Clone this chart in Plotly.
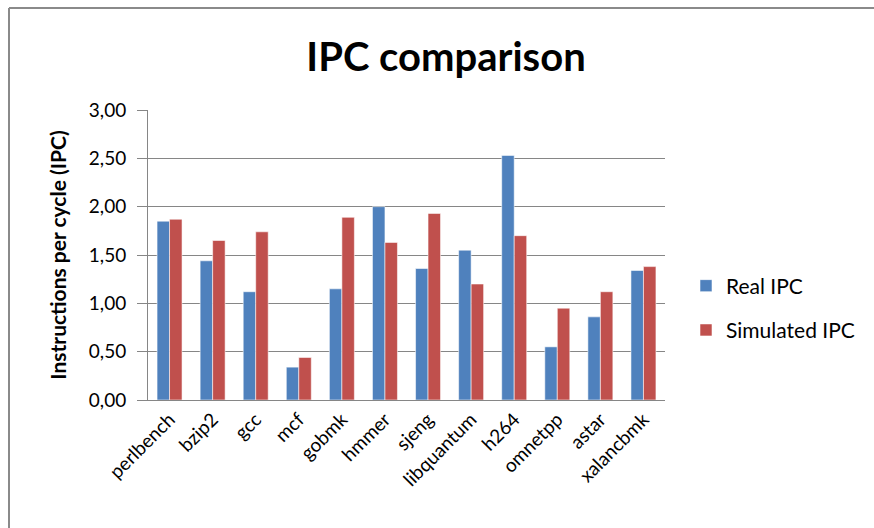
import plotly.graph_objects as go

# Benchmarks and measured / simulated instructions per cycle
benchmarks = ["perlbench", "bzip2", "gcc", "mcf", "gobmk", "hmmer", "sjeng",
              "libquantum", "h264", "omnetpp", "astar", "xalancbmk"]
real_ipc = [1.85, 1.44, 1.12, 0.34, 1.15, 2.00, 1.36, 1.55, 2.53, 0.55, 0.86, 1.34]
simulated_ipc = [1.87, 1.65, 1.74, 0.44, 1.89, 1.63, 1.93, 1.20, 1.70, 0.95, 1.12, 1.38]
y_ticks = [0, 0.5, 1.0, 1.5, 2.0, 2.5, 3.0]

W, H = 874, 528
ML, MR, MT, MB = 148, 209, 110, 128
PW, PH = W - ML - MR, H - MT - MB

FONT = "Lato"
BLUE = "#4F81BD"
RED = "#C0504D"
GRID = "#868686"


def px_x(x):
    return (x - ML) / PW


def px_y(y):
    return (H - MB - y) / PH


fig = go.Figure()
fig.add_trace(go.Bar(
    x=benchmarks, y=real_ipc, name="Real IPC", legendgroup="real",
    marker=dict(color=BLUE, line=dict(color="rgba(255,255,255,0.55)", width=1)),
))
fig.add_trace(go.Bar(
    x=benchmarks, y=simulated_ipc, name="Simulated IPC", legendgroup="sim",
    marker=dict(color=RED, line=dict(color="rgba(255,255,255,0.55)", width=1)),
))

fig.update_layout(
    width=W, height=H,
    margin=dict(l=ML, r=MR, t=MT, b=MB, pad=0),
    paper_bgcolor="white", plot_bgcolor="white",
    font=dict(family=FONT, color="#000000"),
    barmode="group", bargap=0.42, bargroupgap=0,
    title=dict(text="<b>IPC comparison</b>", x=px_x(446), xref="paper",
               xanchor="center", y=1 - 57 / H, yanchor="middle",
               font=dict(size=40, family=FONT, color="#000000")),
    showlegend=True,
    legend=dict(x=px_x(686), xref="paper", y=px_y(308), yanchor="middle",
                xanchor="left", font=dict(size=21, family=FONT),
                traceorder="grouped", tracegroupgap=14,
                itemwidth=30, bgcolor="rgba(0,0,0,0)"),
    xaxis=dict(tickangle=-45, tickfont=dict(size=19, family=FONT),
               showline=True, linecolor=GRID, linewidth=1, ticks="",
               showgrid=False),
    yaxis=dict(range=[0, 3.0], tickvals=y_ticks, tickformat=".2f",
               tickfont=dict(size=19, family=FONT),
               showline=True, linecolor=GRID, linewidth=1,
               ticks="outside", ticklen=10, tickcolor=GRID,
               ticklabelstandoff=7,
               showgrid=True, gridcolor=GRID, gridwidth=1, zeroline=False,
               title=dict(text="<b>Instructions per cycle (IPC)</b>",
                          font=dict(size=21, family=FONT), standoff=16)),
    separators=",.",
)

# Chart frame: top and left edges
fig.add_shape(type="line", xref="paper", yref="paper",
              x0=px_x(9), x1=px_x(880), y0=px_y(8), y1=px_y(8),
              line=dict(color="#8a8a8a", width=2))
fig.add_shape(type="line", xref="paper", yref="paper",
              x0=px_x(9), x1=px_x(9), y0=px_y(8), y1=px_y(540),
              line=dict(color="#8a8a8a", width=2))

fig.write_html("out.html")
